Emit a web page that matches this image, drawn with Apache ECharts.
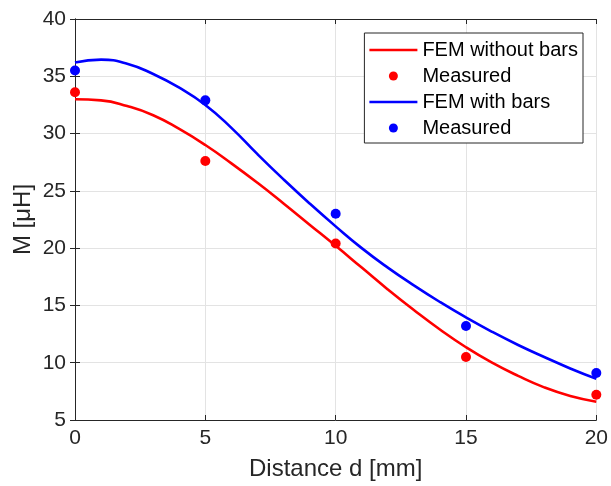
<!DOCTYPE html>
<html><head><meta charset="utf-8">
<script src="https://cdn.jsdelivr.net/npm/echarts@6/dist/echarts.min.js"></script>
<style>html,body{margin:0;padding:0;background:#fff}#c{width:611px;height:486px}</style>
</head><body><div id="c"></div>
<script>
const xTicks = [0, 5, 10, 15, 20];
const femX = [0,1,2,3,4,5,6,7,8,9,10,11,12,13,14,15,16,17,18,19,20];
const femWithout = [33.0,32.9,32.4,31.6,30.4,29.0,27.4,25.7,23.9,22.05,20.2,18.3,16.4,14.6,12.9,11.35,10.0,8.85,7.85,7.1,6.6];
const femWith = [36.2,36.45,36.1,35.2,34.0,32.5,30.5,28.2,26.0,23.9,21.9,20.0,18.3,16.75,15.3,13.95,12.7,11.55,10.5,9.5,8.6];
const measX = [0, 5, 10, 15, 20];
const measWithout = [33.6, 27.6, 20.4, 10.5, 7.2];
const measWith = [35.5, 32.9, 23.0, 13.2, 9.1];

const pair = (xs, ys) => xs.map((x, i) => [x, ys[i]]);
const txt = '#262626';
const font = 'Liberation Sans, Arial, sans-serif';
const lineIcon = 'path://M0,0L48,0L48,0.01L0,0.01Z M0,3.2L48,3.2L48,5.8L0,5.8Z M0,8.99L48,8.99L48,9L0,9Z';
const axisCommon = {
  axisLine: {show: true, lineStyle: {color: txt, width: 1}},
  axisTick: {show: true, inside: true, length: 5, lineStyle: {color: txt}},
  splitLine: {show: false}
};
const chart = echarts.init(document.getElementById('c'));
chart.setOption({
  animation: false,
  backgroundColor: '#fff',
  grid: {left: 75, right: 14, top: 19, bottom: 65, containLabel: false},
  legend: {
    right: 28, top: 33, orient: 'vertical',
    backgroundColor: '#fff', borderColor: txt, borderWidth: 1,
    padding: [7, 5, 5, 5], itemGap: 6, itemWidth: 48, itemHeight: 9,
    textStyle: {fontFamily: font, fontSize: 20, color: '#000'},
    data: [
      {name: 'FEM without bars', icon: lineIcon},
      {name: 'Measured', icon: 'circle'},
      {name: 'FEM with bars', icon: lineIcon},
      {name: 'Measured ', icon: 'circle'}
    ],
    formatter: n => n.trim()
  },
  xAxis: [
    Object.assign({type: 'value', min: 0, max: 20, interval: 5, position: 'bottom',
      name: 'Distance d [mm]', nameLocation: 'middle', nameGap: 37, nameMoveOverlap: false,
      nameTextStyle: {fontFamily: font, fontSize: 24, color: txt},
      axisLabel: {fontFamily: font, fontSize: 21, color: txt, margin: 8}}, axisCommon,
      {splitLine: {show: true, lineStyle: {color: '#e3e3e3'}}}),
    Object.assign({type: 'value', min: 0, max: 20, interval: 5, position: 'top',
      axisLabel: {show: false}}, axisCommon)
  ],
  yAxis: [
    Object.assign({type: 'value', min: 5, max: 40, interval: 5, position: 'left',
      name: 'M [μH]', nameLocation: 'middle', nameGap: 40, nameRotate: 90, nameMoveOverlap: false,
      nameTextStyle: {fontFamily: font, fontSize: 24, color: txt},
      axisLabel: {fontFamily: font, fontSize: 21, color: txt, margin: 9}}, axisCommon,
      {splitLine: {show: true, lineStyle: {color: '#e3e3e3'}}}),
    Object.assign({type: 'value', min: 5, max: 40, interval: 5, position: 'right',
      axisLabel: {show: false}}, axisCommon)
  ],
  series: [
    {name: 'FEM without bars', type: 'line', smooth: true, symbol: 'none',
      data: pair(femX, femWithout), lineStyle: {color: '#ff0000', width: 2.6}, itemStyle: {color: '#ff0000'}},
    {name: 'Measured', type: 'scatter', symbolSize: 10,
      data: pair(measX, measWithout), itemStyle: {color: '#ff0000', opacity: 1}},
    {name: 'FEM with bars', type: 'line', smooth: true, symbol: 'none',
      data: pair(femX, femWith), lineStyle: {color: '#0000ff', width: 2.6}, itemStyle: {color: '#0000ff'}},
    {name: 'Measured ', type: 'scatter', symbolSize: 10,
      data: pair(measX, measWith), itemStyle: {color: '#0000ff', opacity: 1}}
  ]
});
</script></body></html>
